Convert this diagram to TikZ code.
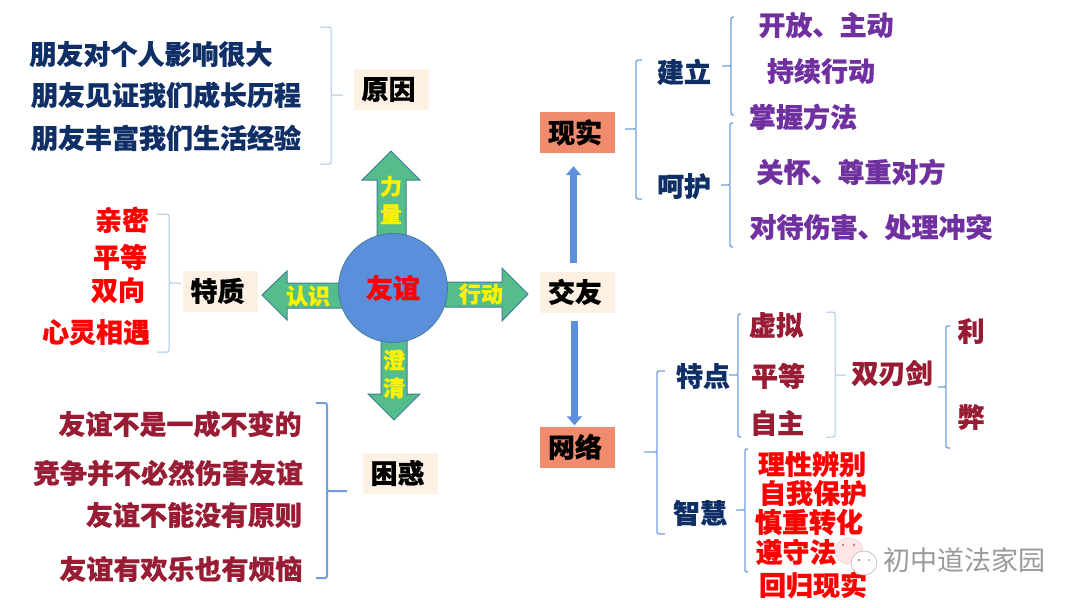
\documentclass[tikz,border=0pt]{standalone}
\usepackage{fontspec}
\setmainfont{Noto Sans CJK SC}[BoldFeatures={FakeBold=0.6}]
\usetikzlibrary{arrows.meta}
\definecolor{navy}{HTML}{0F2F66}
\definecolor{wine}{HTML}{981C33}
\definecolor{plum}{HTML}{7030A0}
\definecolor{salmon}{HTML}{F08B6D}
\definecolor{cream}{HTML}{FDF1E3}
\definecolor{skyline}{HTML}{6E9EDF}
\definecolor{paleline}{HTML}{A9C5EA}
\definecolor{arrowgreen}{HTML}{55BC8B}
\definecolor{arrowedge}{HTML}{3F7F9A}
\definecolor{discblue}{HTML}{5B8FDC}
\begin{document}
\begin{tikzpicture}[x=1pt, y=-1pt,
	word/.style={inner sep=0, text height=23.8pt, text depth=3.2pt, font=\bfseries\fontsize{27}{27}\selectfont},
	small/.style={inner sep=0, align=center, yellow, font=\bfseries\fontsize{22}{28}\selectfont},
	tag/.style={word, minimum width=75pt, minimum height=41pt, fill=cream, execute at begin node=\kern-5pt},
	hot/.style={tag, fill=salmon},
	brace/.style={draw=skyline, line width=1.3pt, rounded corners=2pt},
	pale/.style={brace, draw=paleline, line width=1pt},
	heavy/.style={brace, line width=2pt},
	block/.style={draw=arrowedge, fill=arrowgreen, line width=1pt},
	flow/.style={draw=discblue, line width=7.5pt, -{Triangle[width=15pt, length=9pt]}}]
	\useasboundingbox (0, 0) rectangle (1080, 608);

	% left: reasons
	\node[word, navy] (reason-a) at (151, 54) {朋友对个人影响很大};
	\node[word, navy] (reason-b) at (166, 95) {朋友见证我们成长历程};
	\node[word, navy] (reason-c) at (166, 138) {朋友丰富我们生活经验};
	\node[tag] (reason) at (391, 89) {原因};

	% left: traits
	\node[word, red] (trait-a) at (122, 220) {亲密};
	\node[word, red] (trait-b) at (120, 257) {平等};
	\node[word, red] (trait-c) at (118, 290) {双向};
	\node[word, red] (trait-d) at (96, 332) {心灵相遇};
	\node[tag] (trait) at (220, 291) {特质};

	% left: doubts
	\node[word, wine] (doubt-a) at (180, 424) {友谊不是一成不变的};
	\node[word, wine] (doubt-b) at (168, 473) {竞争并不必然伤害友谊};
	\node[word, wine] (doubt-c) at (194, 515) {友谊不能没有原则};
	\node[word, wine] (doubt-d) at (181, 569) {友谊有欢乐也有烦恼};
	\node[tag] (doubt) at (400, 473) {困惑};

	% the four block arrows and the disc
	\draw[block] (391, 151) -- (420, 180) -- (406, 180) -- (406, 236) -- (377, 236) -- (377, 180) -- (362, 180) -- cycle;
	\draw[block] (262, 295) -- (287, 271) -- (287, 283) -- (343, 283) -- (343, 308) -- (287, 308) -- (287, 320) -- cycle;
	\draw[block] (528, 294) -- (502, 268) -- (502, 282) -- (445, 282) -- (445, 307) -- (502, 307) -- (502, 321) -- cycle;
	\draw[block] (394, 420) -- (368, 394) -- (381, 394) -- (381, 340) -- (407, 340) -- (407, 394) -- (420, 394) -- cycle;
	\node[circle, minimum size=109pt, inner sep=0, fill=discblue, draw=arrowedge, line width=.8pt] (friendship) at (393, 288) {};
	\node[word, red] (friendship-text) at (393, 288) {友谊};
	\node[small] (power) at (391, 200) {力\\量};
	\node[small] (clarify) at (394, 374) {澄\\清};
	\node[small] (know) at (308, 296) {认识};
	\node[small] (act) at (481, 294) {行动};

	% middle column
	\node[hot] (real) at (577.5, 132.5) {现实};
	\node[tag] (making) at (577.5, 292) {交友};
	\node[hot] (online) at (577.5, 447) {网络};
	\draw[flow, shorten <=8pt, shorten >=13pt] ([xshift=-4pt]making.north) -- ([xshift=-4pt]real.south);
	\draw[flow, shorten <=8pt, shorten >=1pt] ([xshift=-3pt]making.south) -- ([xshift=-3pt]online.north);

	% right: real friends
	\node[word, navy] (build) at (684, 72) {建立};
	\node[word, navy] (care) at (684, 186) {呵护};
	\node[word, plum] (build-a) at (826, 25) {开放、主动};
	\node[word, plum] (build-b) at (821, 71) {持续行动};
	\node[word, plum] (build-c) at (803, 117) {掌握方法};
	\node[word, plum] (care-a) at (851, 172) {关怀、尊重对方};
	\node[word, plum] (care-b) at (871, 227) {对待伤害、处理冲突};

	% right: online friends
	\node[word, navy] (feature) at (703, 376) {特点};
	\node[word, navy] (wisdom) at (700, 513) {智慧};
	\node[word, wine] (feature-a) at (776, 325) {虚拟};
	\node[word, wine] (feature-b) at (778, 376) {平等};
	\node[word, wine] (feature-c) at (777, 423) {自主};
	\node[word, wine] (blade) at (892, 373) {双刃剑};
	\node[word, wine] (gain) at (971, 331) {利};
	\node[word, wine] (harm) at (971, 417) {弊};
	\node[word, red] (wisdom-a) at (812, 464) {理性辨别};
	\node[word, red] (wisdom-b) at (813, 493) {自我保护};
	\node[word, red] (wisdom-c) at (809, 522) {慎重转化};
	\node[word, red] (wisdom-d) at (796, 552) {遵守法};
	\node[word, red] (wisdom-e) at (813, 585) {回归现实};

	% tips of the braces
	\coordinate (reason-tip) at (343, 95);
	\coordinate (trait-tip) at (181, 283);
	\coordinate (doubt-tip) at (347, 491);
	\coordinate (real-tip) at (625, 129);
	\coordinate (build-tip) at (722, 66);
	\coordinate (care-tip) at (721, 185);
	\coordinate (online-tip) at (644, 452);
	\coordinate (feature-tip) at (729, 375);
	\coordinate (blade-tip) at (846, 375);
	\coordinate (edge-tip) at (938, 387);
	\coordinate (wisdom-tip) at (736, 510);

	\draw[pale] (reason-tip) -- ++(-12, 0) |- ++(-11, -68) (reason-tip) ++(-12, 0) |- ++(-11, 69);
	\draw[pale] (trait-tip) -- ++(-12, 0) |- ++(-12, -69) (trait-tip) ++(-12, 0) |- ++(-12, 69);
	\draw[heavy] (doubt-tip) -- ++(-20, 0) |- ++(-11, -88) (doubt-tip) ++(-20, 0) |- ++(-11, 87);
	\draw[brace] (real-tip) -- ++(11, 0) |- ++(6, -69) (real-tip) ++(11, 0) |- ++(6, 70);
	\draw[brace] (build-tip) -- ++(9, 0) |- ++(3, -49) (build-tip) ++(9, 0) |- ++(3, 49);
	\draw[brace] (care-tip) -- ++(9, 0) |- ++(3, -62) (care-tip) ++(9, 0) |- ++(3, 62);
	\draw[brace] (online-tip) -- ++(13, 0) |- ++(8, -81) (online-tip) ++(13, 0) |- ++(8, 82);
	\draw[brace] (feature-tip) -- ++(9, 0) |- ++(3, -61) (feature-tip) ++(9, 0) |- ++(3, 62);
	\draw[pale] (blade-tip) -- ++(-11, 0) |- ++(-9, -63) (blade-tip) ++(-11, 0) |- ++(-9, 62);
	\draw[brace] (edge-tip) -- ++(8, 0) |- ++(4, -61) (edge-tip) ++(8, 0) |- ++(4, 61);
	\draw[brace] (wisdom-tip) -- ++(9, 0) |- ++(3, -61) (wisdom-tip) ++(9, 0) |- ++(3, 62);

	% watermark
	\draw[draw=gray!30, fill=red!12, fill opacity=.85, line width=.6pt] (849, 551) ellipse (14 and 13);
	\fill[wine!70] (843, 545) circle (1.2) (854, 545) circle (1.2);
	\draw[draw=gray!50, fill=white, line width=.7pt] (864, 563) ellipse (13 and 12);
	\fill[wine!70] (859, 560) circle (1.2);
	\fill[gray!60] (869, 560) circle (1.2);
	\node[inner sep=0, gray!80, font=\fontsize{27}{27}\selectfont] (mark) at (964, 560) {初中道法家园};
\end{tikzpicture}
\end{document}
